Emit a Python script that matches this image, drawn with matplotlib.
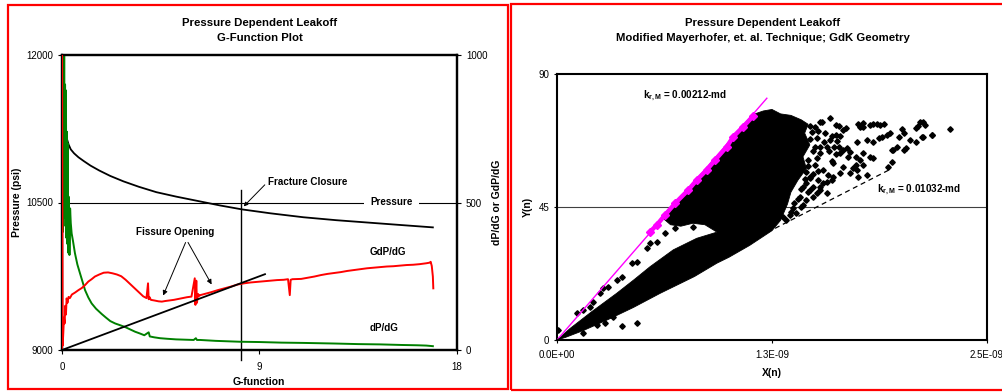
import numpy as np
import matplotlib
matplotlib.use('Agg')
import matplotlib.pyplot as plt
from matplotlib.patches import Rectangle

plt.rcParams['font.family'] = ['Liberation Sans', 'DejaVu Sans']
plt.rcParams['mathtext.fontset'] = 'custom'
plt.rcParams['mathtext.rm'] = 'Liberation Sans'
plt.rcParams['mathtext.bf'] = 'Liberation Sans:bold'

# ---- left chart: G-function plot ----
pres_g = [0.22, 0.3, 0.4, 0.55, 0.75, 1.0, 1.3, 1.7, 2.2, 2.8, 3.5,
          4.3, 5.2, 6.2, 7.2, 8.2, 9.5, 11.0, 12.5, 14.0, 15.5, 16.9]
pres_psi = [11150, 11090, 11040, 11000, 10960, 10920, 10875, 10825, 10770, 10715, 10660,
            10605, 10560, 10515, 10470, 10430, 10390, 10350, 10320, 10295, 10270, 10247]

gdp_g = [0.0, 0.0, 0.03, 0.06, 0.09, 0.12, 0.15, 0.18, 0.21, 0.25,
         0.3, 0.36, 0.45, 0.6, 0.75, 0.9, 1.05, 1.2, 1.35, 1.5,
         1.7, 1.9, 2.1, 2.3, 2.5, 2.7, 2.9, 3.1, 3.3, 3.5,
         3.7, 3.85, 3.92, 3.95, 3.98, 4.05, 4.2, 4.4, 4.55, 4.7,
         4.9, 5.1, 5.3, 5.5, 5.7, 5.9, 6.05, 6.08, 6.12, 6.15,
         6.2, 6.25, 6.3, 6.5, 6.8, 7.1, 7.4, 7.7, 8.0, 8.3,
         8.6, 8.9, 9.2, 9.5, 9.8, 10.1, 10.3, 10.38, 10.42, 10.5,
         10.9, 11.2, 11.5, 11.8, 12.1, 12.4, 12.7, 13.0, 13.3, 13.6,
         13.9, 14.2, 14.5, 14.8, 15.1, 15.4, 15.7, 16.0, 16.3, 16.6,
         16.75, 16.8, 16.85, 16.9, 16.92]
gdp_val = [0, 1100, 15, 60, 110, 90, 150, 120, 175, 160,
           180, 176, 188, 195, 203, 210, 220, 232, 240, 249,
           256, 262, 263, 260, 256, 250, 238, 224, 210, 196,
           182, 176, 226, 172, 180, 170, 168, 165, 164, 166,
           168, 170, 173, 176, 179, 181, 243, 153, 235, 160,
           190, 183, 186, 190, 196, 203, 209, 215, 222, 226,
           229, 231, 233, 235, 237, 238, 240, 186, 238, 240,
           241, 245, 249, 254, 258, 261, 264, 268, 271, 274,
           277, 279, 281, 283, 284, 286, 288, 289, 291, 294,
           296, 299, 285, 249, 209]

dp_g = [0.02, 0.04, 0.06, 0.08, 0.1, 0.12, 0.14, 0.16, 0.18, 0.2,
        0.22, 0.24, 0.26, 0.28, 0.3, 0.32, 0.34, 0.37, 0.4, 0.44,
        0.5, 0.59, 0.7, 0.82, 0.95, 1.05, 1.2, 1.35, 1.55, 1.81,
        2.0, 2.2, 2.42, 2.65, 2.87, 3.1, 3.33, 3.55, 3.75, 3.95,
        4.0, 4.2, 4.47, 4.8, 5.2, 5.6, 6.0, 6.1, 6.15, 6.3,
        7.0, 8.1, 9.0, 10.0, 11.0, 12.4, 13.5, 14.5, 15.5, 16.2,
        16.6, 16.9]
dp_val = [1150, 400, 1100, 500, 1050, 450, 900, 420, 880, 380,
          740, 360, 700, 330, 520, 470, 322, 480, 430, 395,
          370, 328, 290, 260, 228, 203, 178, 158, 140, 122,
          110, 98, 90, 84, 78, 70, 62, 56, 50, 60,
          46, 43, 40, 38, 36, 35, 34, 40, 34, 34,
          31, 28, 27, 25, 24, 22, 20, 19, 17, 16,
          15, 13]

tangent_g = [0, 9.25]
tangent_val = [0, 257]
closure_g = 8.15

# ---- right chart: Mayerhofer plot (X in units of 1e-9) ----
cloud_x = [0, 0.076, 0.20, 0.347, 0.45, 0.541, 0.676, 0.812, 0.93, 0.86,
           0.79, 0.72, 0.66, 0.62, 0.70, 0.78, 0.87, 0.99, 1.08, 1.15,
           1.20, 1.25, 1.30, 1.36, 1.42, 1.46, 1.44, 1.47, 1.43, 1.45,
           1.40, 1.36, 1.34, 1.30, 1.25, 1.12, 1.0, 0.93, 0.80, 0.73,
           0.60, 0.444, 0.30, 0.153, 0.05]
cloud_y = [0, 3.9, 9.5, 15.8, 20.5, 24.8, 30.5, 34.4, 36.5, 39.0,
           39.5, 38.5, 39.0, 41.0, 46.5, 51.5, 57.0, 65.0, 71.5, 76.5,
           77.5, 78.0, 76.5, 76.0, 74.5, 73.0, 70.0, 66.0, 62.0, 58.0,
           54.0, 50.0, 46.0, 40.5, 37.0, 32.0, 28.0, 26.0, 21.5, 19.5,
           15.8, 11.0, 7.0, 3.2, 0.9]

sparse_x = [1.587, 1.539, 1.752, 1.781, 1.82, 1.84, 1.86, 1.88, 1.90, 2.004,
            2.09, 2.11, 2.14, 2.285, 2.02, 1.99, 2.09, 2.05, 2.13, 2.18,
            1.917, 1.936, 1.87, 1.89, 1.742, 1.80, 1.84, 1.946, 1.975, 2.02,
            1.82, 1.76, 1.74, 1.665, 1.684, 1.703, 1.597, 1.62, 1.645, 1.55,
            1.59, 1.50, 1.53, 1.57, 1.61, 1.64, 1.645, 1.694, 1.607, 1.665,
            1.723, 1.548, 1.577, 1.597, 1.461, 1.51, 1.471, 1.519, 1.548, 1.432,
            1.471, 1.51, 1.839, 1.781, 1.742, 1.703, 1.645, 1.607, 1.568, 1.529,
            1.80, 1.75, 1.45, 1.49, 1.53, 1.57, 1.41, 1.45, 1.49, 1.374,
            1.432, 1.316, 1.355, 2.13, 2.10, 2.18, 2.12, 1.529, 1.66, 1.68,
            1.76, 1.78, 1.955, 2.03, 1.78, 1.74, 1.926, 1.946]
sparse_y = [75.0, 73.6, 73.1, 73.5, 72.8, 73.0, 73.2, 72.8, 73.0, 71.3,
            71.6, 73.9, 72.7, 71.3, 69.9, 68.8, 67.1, 67.7, 68.8, 69.4,
            69.4, 69.9, 68.5, 68.8, 67.1, 67.7, 67.1, 64.3, 65.4, 64.3,
            62.0, 60.9, 59.2, 64.3, 64.9, 63.7, 69.0, 69.2, 69.0, 67.0,
            67.7, 65.4, 65.4, 65.4, 65.4, 65.4, 63.2, 62.0, 59.8, 58.6,
            58.1, 57.5, 55.8, 54.1, 60.9, 61.5, 55.3, 54.1, 53.0, 51.9,
            50.8, 49.6, 61.5, 59.2, 57.5, 56.4, 56.4, 55.3, 53.6, 51.9,
            55.8, 55.3, 53.0, 51.9, 50.8, 49.6, 48.5, 47.4, 48.5, 44.6,
            45.7, 41.7, 42.3, 73.9, 72.4, 69.4, 68.8, 73.9, 71.1, 71.6,
            72.2, 72.2, 64.3, 64.9, 63.2, 62.0, 58.6, 60.3]

streak_x = [1.47, 1.50, 1.62, 1.64, 1.48, 1.52, 1.56, 1.47, 1.51, 1.63,
            1.49, 1.53, 1.58, 1.62, 1.46, 1.50, 1.60, 1.45, 1.49, 1.52,
            1.44, 1.47, 1.42, 1.46, 1.40, 1.38, 1.42, 1.36, 1.39, 1.33]
streak_y = [72.5, 72.0, 72.8, 72.4, 70.3, 70.6, 70.1, 67.9, 68.3, 67.5,
            63.8, 63.4, 63.9, 62.8, 58.9, 59.3, 60.6, 56.8, 56.2, 57.1,
            54.4, 54.9, 51.2, 50.1, 47.6, 46.3, 45.1, 43.4, 42.9, 40.6]

gap_x = [0.008, 0.153, 0.231, 0.279, 0.327, 0.376, 0.463, 0.115, 0.153, 0.211,
         0.25, 0.192, 0.269, 0.298, 0.347, 0.376, 0.434, 0.463, 0.521, 0.541,
         0.580, 0.628, 0.686, 0.793]
gap_y = [3.4, 2.3, 5.1, 5.6, 7.9, 4.7, 5.6, 9.0, 10.2, 13.0,
         15.8, 11.3, 17.5, 18.0, 20.3, 21.4, 25.9, 26.5, 31.0, 32.7,
         33.3, 36.1, 37.8, 38.3]

mag_x = [0.541, 0.580, 0.628, 0.686, 0.764, 0.812, 0.870, 0.919, 0.987, 1.025, 1.083, 1.141]
mag_y = [36.6, 38.9, 42.3, 46.2, 50.8, 54.1, 57.5, 60.9, 65.4, 68.8, 72.2, 75.8]

fit_hi_x = [0, 1.22]
fit_hi_y = [0, 81.8]
fit_lo_x = [0, 1.946]
fit_lo_y = [0, 58.0]

W, H = 1003, 392
fig = plt.figure(figsize=(W / 100, H / 100), dpi=100)


def fx(px):
    return px / W


def fy(py):
    return 1 - py / H


# red panel borders
fig.add_artist(Rectangle((fx(8), fy(389)), fx(500), 384 / H, transform=fig.transFigure,
                         fill=False, ec='red', lw=1.6))
fig.add_artist(Rectangle((fx(511), fy(390)), fx(500), 386 / H, transform=fig.transFigure,
                         fill=False, ec='red', lw=1.6))

bold = dict(fontweight='bold')
tsize = 8.2   # titles
lsize = 7.5   # axis labels
asize = 7.1   # annotations

# ---------------- left panel ----------------
ax = fig.add_axes([fx(62), fy(350), fx(395), 295 / H])
ax2 = ax.twinx()

ax.set_xlim(0, 18)
ax.set_ylim(9000, 12000)
ax.set_xticks([0, 9, 18])
ax.set_yticks([9000, 10500, 12000])
ax2.set_ylim(0, 1000)
ax2.set_yticks([0, 500, 1000])

ax.axhline(10500, color='black', lw=0.8, zorder=1)
ax.plot(pres_g, pres_psi, color='black', lw=1.3, zorder=3)
ax.plot([closure_g, closure_g], [10627, 8898], color='black', lw=1.0, clip_on=False, zorder=4)

ax2.plot(gdp_g, gdp_val, color='#ff0000', lw=1.4, zorder=3)
ax2.plot(dp_g, dp_val, color='#008000', lw=1.4, zorder=2)
ax2.plot(tangent_g, tangent_val, color='black', lw=1.3, zorder=4)

for a in (ax, ax2):
    for s in a.spines.values():
        s.set_linewidth(1.6)
ax.tick_params(axis='both', direction='out', length=3, width=0.8, labelsize=7)
ax.tick_params(axis='x', pad=5.5)
ax2.tick_params(axis='y', direction='out', length=3, width=0.8, labelsize=7)

ax.text(15.0, 10505, 'Pressure', ha='center', va='center', fontsize=asize, **bold,
        bbox=dict(fc='white', ec='none', pad=4.5), zorder=5)
ax2.text(14.84, 332, 'GdP/dG', ha='center', va='center', fontsize=asize, **bold)
ax2.text(14.68, 75, 'dP/dG', ha='center', va='center', fontsize=asize, **bold)
ax.text(9.4, 10708, 'Fracture Closure', ha='left', va='center', fontsize=asize, **bold)
ax.annotate('', xy=(8.19, 10440), xytext=(9.33, 10700),
            arrowprops=dict(arrowstyle='-|>', color='black', lw=0.7, mutation_scale=6))
ax2.text(5.15, 400, 'Fissure Opening', ha='center', va='center', fontsize=asize, **bold)
for tip in [(4.56, 176), (6.88, 214)]:
    ax2.annotate('', xy=tip, xytext=(5.68, 373),
                 arrowprops=dict(arrowstyle='-|>', color='black', lw=0.7, mutation_scale=7))

fig.text(fx(260), fy(23), 'Pressure Dependent Leakoff', ha='center', va='center', fontsize=tsize, **bold)
fig.text(fx(260), fy(38), 'G-Function Plot', ha='center', va='center', fontsize=tsize, **bold)
fig.text(fx(17), fy(202), 'Pressure (psi)', ha='center', va='center', rotation=90, fontsize=lsize, **bold)
fig.text(fx(497), fy(202), 'dP/dG or GdP/dG', ha='center', va='center', rotation=90, fontsize=lsize, **bold)
fig.text(fx(259), fy(382), 'G-function', ha='center', va='center', fontsize=lsize, **bold)

# ---------------- right panel ----------------
axr = fig.add_axes([fx(557), fy(340), fx(430), 266 / H])
sc = 1e-9
axr.set_xlim(0, 2.5 * sc)
axr.set_ylim(0, 90)
axr.set_xticks([0, 1.25 * sc, 2.5 * sc])
axr.set_xticklabels(['0.0E+00', '1.3E-09', '2.5E-09'])
axr.set_yticks([0, 45, 90])
axr.axhline(45, color='#404040', lw=0.8, zorder=1)

axr.fill(np.array(cloud_x) * sc, cloud_y, color='black', lw=0.6, zorder=2)
for xs, ys in [(sparse_x, sparse_y), (streak_x, streak_y), (gap_x, gap_y)]:
    axr.plot(np.array(xs) * sc, ys, 'D', color='black', ms=2.8, zorder=3)
axr.plot(np.array(fit_hi_x) * sc, fit_hi_y, color='#ff00ff', lw=1.0, zorder=4)
axr.plot(np.array(mag_x) * sc, mag_y, color='#ff00ff', lw=3.2, marker='D', ms=4.5, zorder=5)
axr.plot(np.array(fit_lo_x) * sc, fit_lo_y, color='black', lw=0.9, dashes=(4, 3), zorder=4)

for s in axr.spines.values():
    s.set_linewidth(1.5)
axr.tick_params(axis='both', direction='out', length=2, width=0.8, labelsize=7)
axr.tick_params(axis='x', pad=5)

axr.text(0.5 * sc, 82.6, r'$\mathbf{k_{r,M}}$ = 0.00212-md', ha='left', va='center', fontsize=asize, **bold)
axr.text(1.86 * sc, 50.75, r'$\mathbf{k_{r,M}}$ = 0.01032-md', ha='left', va='center', fontsize=asize, **bold)

fig.text(fx(763), fy(23), 'Pressure Dependent Leakoff', ha='center', va='center', fontsize=tsize, **bold)
fig.text(fx(763), fy(38), 'Modified Mayerhofer, et. al. Technique; GdK Geometry', ha='center',
         va='center', fontsize=tsize, **bold)
fig.text(fx(528), fy(207), 'Y(n)', ha='center', va='center', rotation=90, fontsize=lsize, **bold)
fig.text(fx(772), fy(373), 'X(n)', ha='center', va='center', fontsize=lsize, **bold)

fig.savefig('out.png', dpi=100)
